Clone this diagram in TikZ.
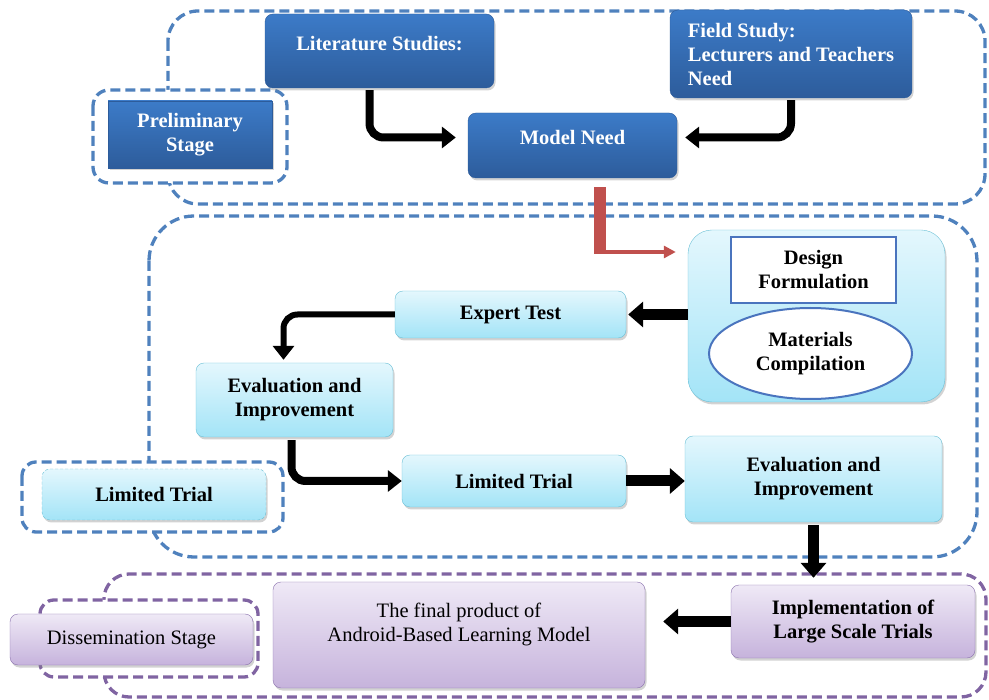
\documentclass[tikz,border=0pt]{standalone}
\usepackage{fontspec}
\setmainfont{Liberation Serif}
\usetikzlibrary{arrows.meta,shapes.geometric,shadows}

\definecolor{blueTop}{HTML}{3C7BC8}
\definecolor{blueBot}{HTML}{2D5C9B}
\definecolor{dashBlue}{HTML}{4F81BD}
\definecolor{cyanTop}{HTML}{E4F7FD}
\definecolor{cyanBot}{HTML}{A3E4F7}
\definecolor{cyanLine}{HTML}{6BC0D6}
\definecolor{purpTop}{HTML}{EFE9F6}
\definecolor{purpBot}{HTML}{C6B3DC}
\definecolor{purpLine}{HTML}{8B72AE}
\definecolor{dashPurp}{HTML}{8064A2}
\definecolor{redBar}{HTML}{C0504D}
\definecolor{innerBlue}{HTML}{4A74BE}

\newcommand\boxfont{\fontsize{20.5}{24}\selectfont}

\begin{document}
\begin{tikzpicture}[x=1pt, y=-1pt]
\tikzstyle{stageline}=[line width=3.3pt, dash pattern=on 10pt off 5pt]
\tikzstyle{boxshadow}=[drop shadow={shadow xshift=1.5pt, shadow yshift=-2.5pt, opacity=.35}]
\tikzstyle{bluebox}=[boxshadow, rounded corners=8pt, top color=blueTop,
  bottom color=blueBot, draw=blueBot, text=white, font=\boxfont\bfseries,
  align=center]
\tikzstyle{cyanbox}=[boxshadow, rounded corners=8pt, top color=cyanTop,
  bottom color=cyanBot, draw=cyanLine, font=\boxfont\bfseries, align=center]
\tikzstyle{purpbox}=[boxshadow, rounded corners=8pt, top color=purpTop,
  bottom color=purpBot, draw=purpLine, font=\boxfont, align=center]
\tikzstyle{fatarrow}=[line width=11pt, -{Triangle[length=15pt,width=25pt]}]
\tikzstyle{bentarrow}=[line width=8pt, rounded corners=14pt,
  -{Triangle[length=14pt,width=21pt]}]
\useasboundingbox (0,0) rectangle (989,700);

% preliminary stage
\draw[stageline, draw=dashBlue, rounded corners=30pt] (168,11) rectangle (985,204);
\draw[stageline, draw=dashBlue, fill=white, rounded corners=16pt] (93,90) rectangle (287,183);

% development stage
\draw[stageline, draw=dashBlue, rounded corners=45pt] (149,216) rectangle (977,557);
\draw[stageline, draw=dashBlue, fill=white, rounded corners=14pt] (22,462) rectangle (283,532);

% dissemination stage
\draw[stageline, draw=dashPurp, rounded corners=25pt] (104,574) rectangle (986,697);
\draw[stageline, draw=dashPurp, fill=white, rounded corners=14pt] (40,600) rectangle (258,677);

% needs analysis
\node[bluebox, rounded corners=0pt, minimum width=164pt, minimum height=67pt]
  (prelim) at (190,134.5) {Preliminary\\Stage};
\node[bluebox, text depth=15pt, minimum width=229pt, minimum height=74pt]
  (lit) at (379.5,51) {Literature Studies:};
\node[bluebox, align=left, minimum width=242pt, minimum height=88pt]
  (field) at (791,54) {Field Study:\\Lecturers and Teachers\\Need};
\node[bluebox, text depth=17pt, minimum width=209pt, minimum height=65pt]
  (mneed) at (572.5,145.5) {Model Need};

% design block
\node[cyanbox, rounded corners=24pt, minimum width=257pt, minimum height=172pt]
  (design) at (816.5,316) {};
\node[draw=innerBlue, line width=2.5pt, fill=white, font=\boxfont\bfseries,
  align=center, minimum width=165pt, minimum height=66pt]
  (desform) at (813.5,270) {Design\\Formulation};
\node[ellipse, draw=innerBlue, line width=2pt, fill=white, font=\boxfont\bfseries,
  align=center, minimum width=203pt, minimum height=91pt]
  (matcomp) at (810.5,353.5) {Materials\\Compilation};

% development
\node[cyanbox, minimum width=231pt, minimum height=47pt] (expert) at (510.5,314.5) {Expert Test};
\node[cyanbox, minimum width=197pt, minimum height=74pt] (eval1) at (294.5,400) {Evaluation and\\Improvement};
\node[cyanbox, draw=cyanLine, densely dashed, minimum width=224pt, minimum height=51pt]
  (ltrial) at (154,494.5) {Limited Trial};
\node[cyanbox, minimum width=224pt, minimum height=52pt] (trial) at (514,481) {Limited Trial};
\node[cyanbox, minimum width=257pt, minimum height=86pt] (eval2) at (813.5,479) {Evaluation and\\Improvement};

% dissemination
\node[purpbox, minimum width=243pt, minimum height=51pt] (dissem) at (131.5,639.5) {Dissemination Stage};
\node[purpbox, minimum width=372pt, minimum height=106pt,
  label={[font=\boxfont, align=center, yshift=11pt]center:{The final product of\\Android-Based Learning Model}}]
  (final) at (459,635) {};
\node[purpbox, font=\boxfont\bfseries, minimum width=244pt, minimum height=73pt]
  (impl) at (853,621.5) {Implementation of\\Large Scale Trials};

% connections
\draw[bentarrow, shorten <=2pt] ([xshift=-10pt]lit.south) |- ([xshift=-12pt,yshift=8pt]mneed.west);
\draw[bentarrow, shorten <=2pt] (field.south) |- ([xshift=8pt,yshift=8pt]mneed.east);

\coordinate (redbend) at (600,252);
\draw[redBar, line width=12pt, shorten <=9pt]
  (mneed.south -| redbend) -- ([yshift=-2pt]redbend);
\draw[redBar, line width=3.5pt, -{Triangle[length=12pt,width=12pt]}, shorten >=12pt]
  (redbend) -- (design.west |- redbend);

\draw[fatarrow, shorten >=2pt] (design.west |- expert.east) -- (expert.east);
\draw[bentarrow, line width=6pt, shorten >=3pt] (expert.west) -| ([xshift=-11pt]eval1.north);
\draw[bentarrow, shorten <=3pt] ([xshift=-3pt]eval1.south) |- (trial.west);
\draw[fatarrow] (trial.east) -- (eval2.west |- trial.east);
\draw[fatarrow, shorten <=3pt, shorten >=7pt] (eval2.south) -- (eval2.south |- impl.north);
\draw[fatarrow, shorten >=18pt] (impl.west) -- (final.east |- impl.west);
\end{tikzpicture}
\end{document}
